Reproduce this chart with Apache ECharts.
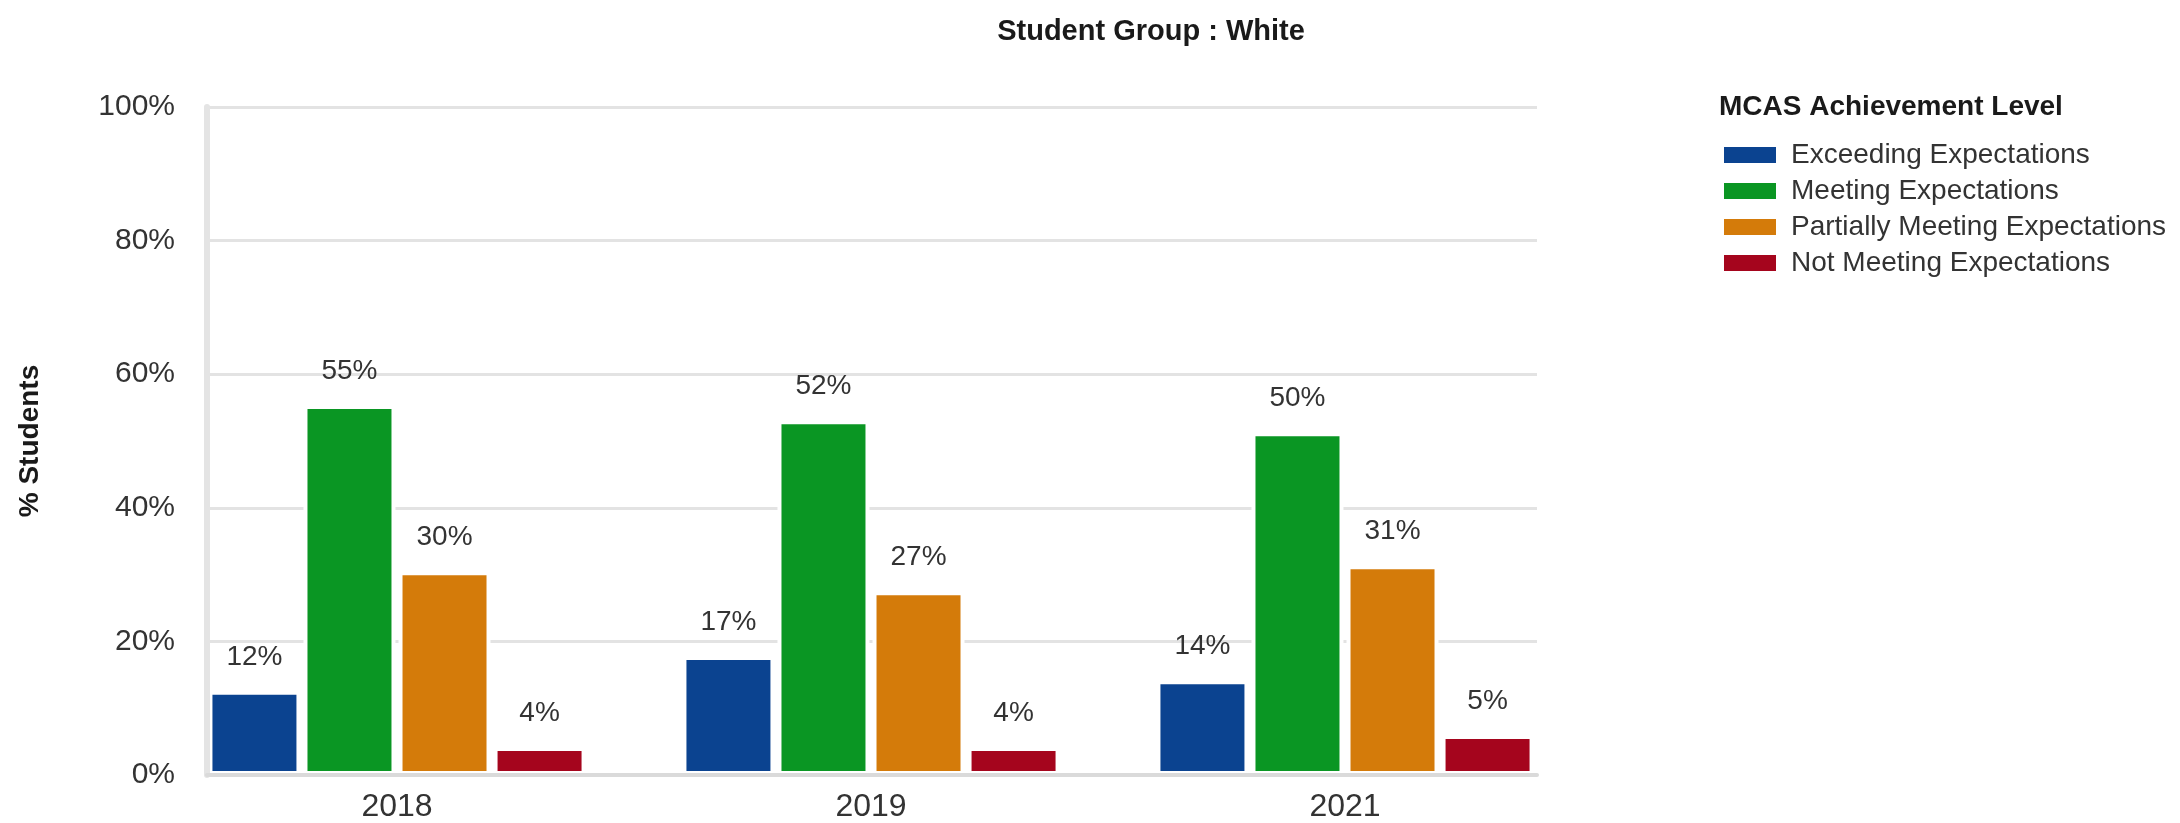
<!DOCTYPE html>
<html>
<head>
<meta charset="utf-8">
<script src="https://cdn.jsdelivr.net/npm/echarts@6/dist/echarts.min.js"></script>
<style>
html,body{margin:0;padding:0;background:#fff;}
#chart{width:2180px;height:823px;}
</style>
</head>
<body>
<div id="chart"></div>
<script>
// Data
const years = ['2018', '2019', '2021'];
const seriesNames = ['Exceeding Expectations', 'Meeting Expectations', 'Partially Meeting Expectations', 'Not Meeting Expectations'];
const exceeding = [12.6, 17.8, 14.2];
const meeting = [55.4, 53.1, 51.3];
const partially = [30.5, 27.5, 31.4];
const notMeeting = [4.2, 4.2, 6.0];
const exceedingLabels = [12, 17, 14];
const meetingLabels = [55, 52, 50];
const partiallyLabels = [30, 27, 31];
const notMeetingLabels = [4, 4, 5];
const yTicks = [0, 20, 40, 60, 80, 100];
const colors = ['#0b4390', '#0a9623', '#d47b0a', '#a5051d'];

const FONT = "'Liberation Sans', Arial, sans-serif";
const values = [exceeding, meeting, partially, notMeeting];
const labels = [exceedingLabels, meetingLabels, partiallyLabels, notMeetingLabels];

const chart = echarts.init(document.getElementById('chart'));

const series = seriesNames.map((name, i) => ({
  name: name,
  type: 'bar',
  xAxisIndex: 1,
  yAxisIndex: 2,
  data: values[i],
  barWidth: 92,
  barGap: '3.3%',
  itemStyle: { color: colors[i], borderColor: '#ffffff', borderWidth: 4 },
  label: {
    show: true,
    position: 'top',
    distance: 20,
    fontFamily: FONT,
    fontSize: 28,
    color: '#333',
    formatter: p => labels[p.seriesIndex][p.dataIndex] + '%'
  },
  emphasis: { disabled: true }
}));

chart.setOption({
  animation: false,
  backgroundColor: '#ffffff',
  title: [
    {
      text: 'Student Group : White',
      left: 1146,
      textAlign: 'center',
      top: 12,
      textStyle: { fontFamily: FONT, fontSize: 29, fontWeight: 'bold', color: '#1a1a1a' }
    },
    {
      text: 'MCAS Achievement Level',
      left: 1714,
      top: 88,
      textStyle: { fontFamily: FONT, fontSize: 28, fontWeight: 'bold', color: '#1a1a1a' }
    }
  ],
  legend: {
    orient: 'vertical',
    left: 1724,
    top: 140,
    padding: 0,
    icon: 'rect',
    itemWidth: 52,
    itemHeight: 16,
    itemGap: 6,
    selectedMode: false,
    itemStyle: { borderWidth: 0 },
    textStyle: { fontFamily: FONT, fontSize: 28, color: '#333', lineHeight: 30, padding: [0, 0, 0, 10] },
    data: seriesNames
  },
  graphic: [
    {
      type: 'text',
      x: 30,
      y: 441,
      rotation: Math.PI / 2,
      style: {
        text: '% Students',
        font: 'bold 28px ' + FONT,
        align: 'center',
        verticalAlign: 'middle',
        fill: '#1a1a1a'
      }
    }
  ],
  grid: [
    { left: 207, top: 107, width: 1330, height: 668 },
    { left: 160, top: 107, width: 1422, height: 668 }
  ],
  xAxis: [
    {
      gridIndex: 0,
      type: 'value',
      min: 0,
      max: 1,
      z: 10,
      axisLine: { show: true, onZero: false, lineStyle: { color: '#dadada', width: 4 } },
      axisTick: { show: false },
      axisLabel: { show: false },
      splitLine: { show: false }
    },
    {
      gridIndex: 1,
      type: 'category',
      data: years,
      axisLine: { show: false },
      axisTick: { show: false },
      axisLabel: { fontFamily: FONT, fontSize: 32, color: '#333', margin: 16 },
      splitLine: { show: false }
    }
  ],
  yAxis: [
    {
      gridIndex: 0,
      type: 'value',
      min: 0,
      max: 100,
      interval: 20,
      z: 0,
      axisLine: { show: false },
      axisTick: { show: false },
      axisLabel: {
        fontFamily: FONT,
        fontSize: 30,
        color: '#333',
        margin: 32,
        formatter: v => (yTicks.indexOf(v) >= 0 ? v + '%' : '')
      },
      splitLine: { show: true, lineStyle: { color: '#e3e3e3', width: 3 } }
    },
    {
      gridIndex: 0,
      type: 'value',
      position: 'left',
      min: 0,
      max: 100,
      z: 10,
      axisLine: { show: true, onZero: false, lineStyle: { color: '#e4e4e4', width: 6 } },
      axisTick: { show: false },
      axisLabel: { show: false },
      splitLine: { show: false }
    },
    {
      gridIndex: 1,
      type: 'value',
      min: 0,
      max: 100,
      show: false,
      splitLine: { show: false }
    }
  ],
  series: series
});
</script>
</body>
</html>
